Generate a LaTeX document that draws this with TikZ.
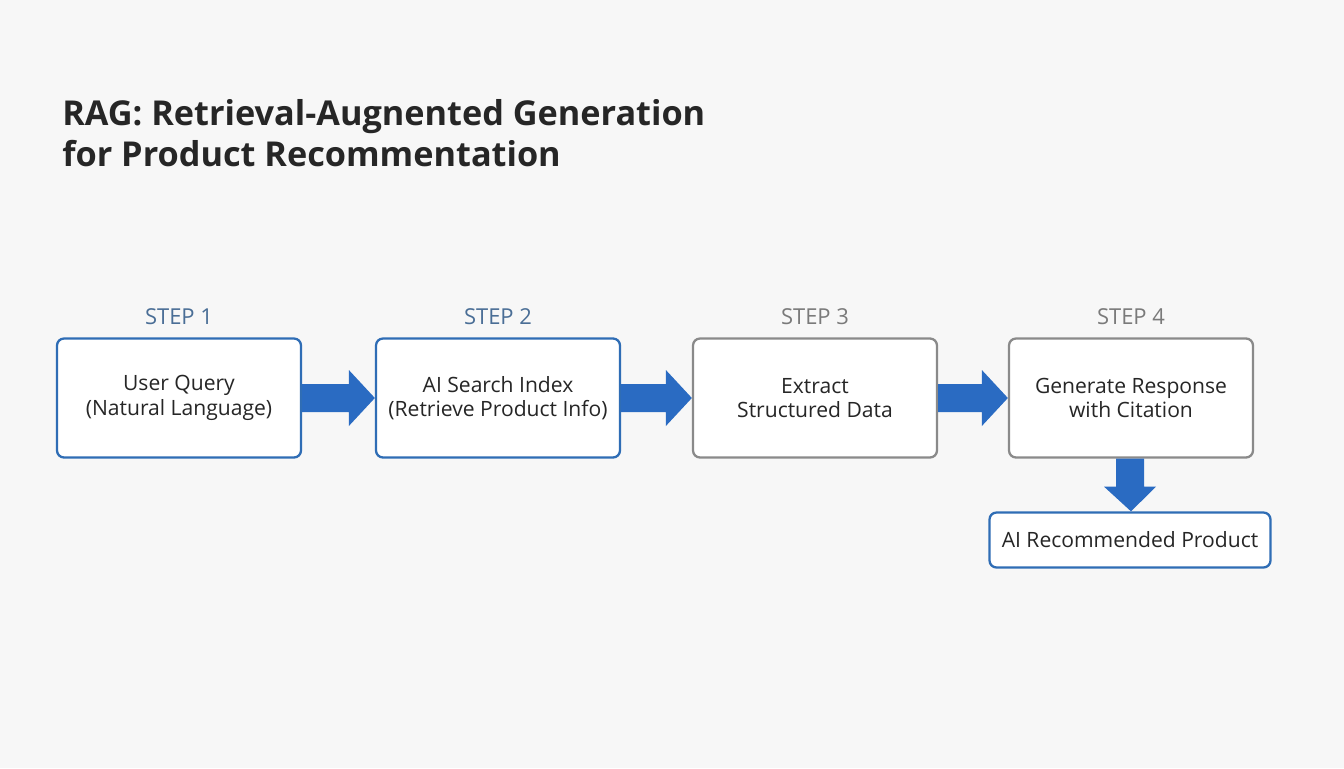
\documentclass[tikz,border=0pt]{standalone}
\usepackage{fontspec}
\setmainfont{Open Sans}
\usetikzlibrary{positioning,calc}
\definecolor{bgcol}{HTML}{F7F7F7}
\definecolor{stepblue}{HTML}{2F6DB5}
\definecolor{stepgray}{HTML}{8A8A8A}
\definecolor{flowblue}{HTML}{2A6BC2}
\definecolor{labblue}{HTML}{4A6E96}
\definecolor{labgray}{HTML}{7A7A7A}
\tikzset{
  box/.style={draw, line width=1.3pt, rounded corners=4pt, fill=white,
    minimum width=244\px, minimum height=119\px, align=center, inner sep=2pt,
    font=\fontsize{12}{14}\selectfont, text=black!85},
  bluebox/.style={box, draw=stepblue},
  graybox/.style={box, draw=stepgray},
  steplab/.style={font=\fontsize{12.5}{15}\selectfont},
  flow/.style={fill=flowblue}
}
\newlength{\px}
\setlength{\px}{0.02cm}
\begin{document}
\begin{tikzpicture}[x=0.02cm,y=-0.02cm]
    \fill[bgcol] (0,0) rectangle (1344,768);
    \useasboundingbox (0,0) rectangle (1344,768);

    % title
    \node[anchor=west, align=left, inner sep=0pt, font=\fontsize{19.5}{23}\selectfont\bfseries, text=black!85] (title) at (62,133)
        {RAG: Retrieval-Augnented Generation\\for Product Recommentation};

    % steps
    \node [bluebox] (S1) at (179,398) {User Query\\(Natural Language)};
    \node [bluebox] (S2) at (498,398) {AI Search Index\\(Retrieve Product Info)};
    \node [graybox] (S3) at (815,398) {Extract\\Structured Data};
    \node [graybox] (S4) at (1131,398) {Generate Response\\with Citation};
    \node [bluebox, minimum width=281\px, minimum height=55\px] (R) at (1130,540) {AI Recommended Product};

    \node [steplab, text=labblue] (L1) [above=6\px of S1] {STEP 1};
    \node [steplab, text=labblue] (L2) [above=6\px of S2] {STEP 2};
    \node [steplab, text=labgray] (L3) [above=6\px of S3] {STEP 3};
    \node [steplab, text=labgray] (L4) [above=6\px of S4] {STEP 4};

    % block arrows
    \foreach \a/\b in {S1/S2, S2/S3, S3/S4}{
        \fill[flow] ($(\a.east)+(0,-14)$) -- ($(\b.west)+(-26,-14)$) -- ($(\b.west)+(-26,-28)$)
            -- (\b.west) -- ($(\b.west)+(-26,28)$) -- ($(\b.west)+(-26,14)$) -- ($(\a.east)+(0,14)$) -- cycle;
    }
    \fill[flow] ($(S4.south)+(-15,0)$) -- ($(S4.south)+(-15,28)$) -- ($(S4.south)+(-27,28)$)
        -- ($(R.north)+(1,0)$) -- ($(S4.south)+(25,28)$) -- ($(S4.south)+(13,28)$) -- ($(S4.south)+(13,0)$) -- cycle;
\end{tikzpicture}
\end{document}
